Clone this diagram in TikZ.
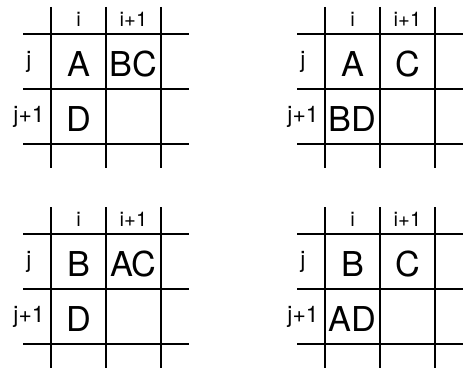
\documentclass[tikz,border=0pt]{standalone}
\usepackage{fontspec}
\setmainfont{TeX Gyre Heros}
\usetikzlibrary{positioning}
\tikzset{
  gline/.style={line width=1.2pt, draw=black},
  cellmark/.style={font=\fontsize{19.5}{19.5}\selectfont, inner sep=0pt},
  collab/.style={font=\fontsize{11.5}{11.5}\selectfont, inner sep=0pt},
  rowlab/.style={font=\fontsize{13}{13}\selectfont, inner sep=0pt},
}
\begin{document}
\begin{tikzpicture}[x=0.02cm, y=-0.02cm]
  \useasboundingbox (0,0) rectangle (463,368);
  % one grid per case: origin / cell (i,j) / cell (i+1,j) / cell (i,j+1)
  \foreach \px/\py/\ca/\cb/\cc/\n in {51/34/A/BC/D/1, 325/34/A/C/BD/2,
                                      51/234/B/AC/D/3, 325/234/B/C/AD/4} {
    \begin{scope}[shift={(\px,\py)}]
      \foreach \k in {0,55,110} {
        \draw[gline] (\k,-27) -- (\k,134);
        \draw[gline] (-28,\k) -- (138,\k);
      }
      \node[collab] (ci\n) at (27.5,-15) {i};
      \node[collab] (cii\n) at (82.5,-15) {i+1};
      \node[rowlab] (rj\n) at (-22,28) {j};
      \node[rowlab] (rjj\n) at (-22,83) {j+1};
      \node[cellmark] (a\n) at (27.5,30) {\ca};
      \node[cellmark] (b\n) at (82.5,30) {\cb};
      \node[cellmark] (c\n) at (27.5,85) {\cc};
    \end{scope}
  }
\end{tikzpicture}
\end{document}
